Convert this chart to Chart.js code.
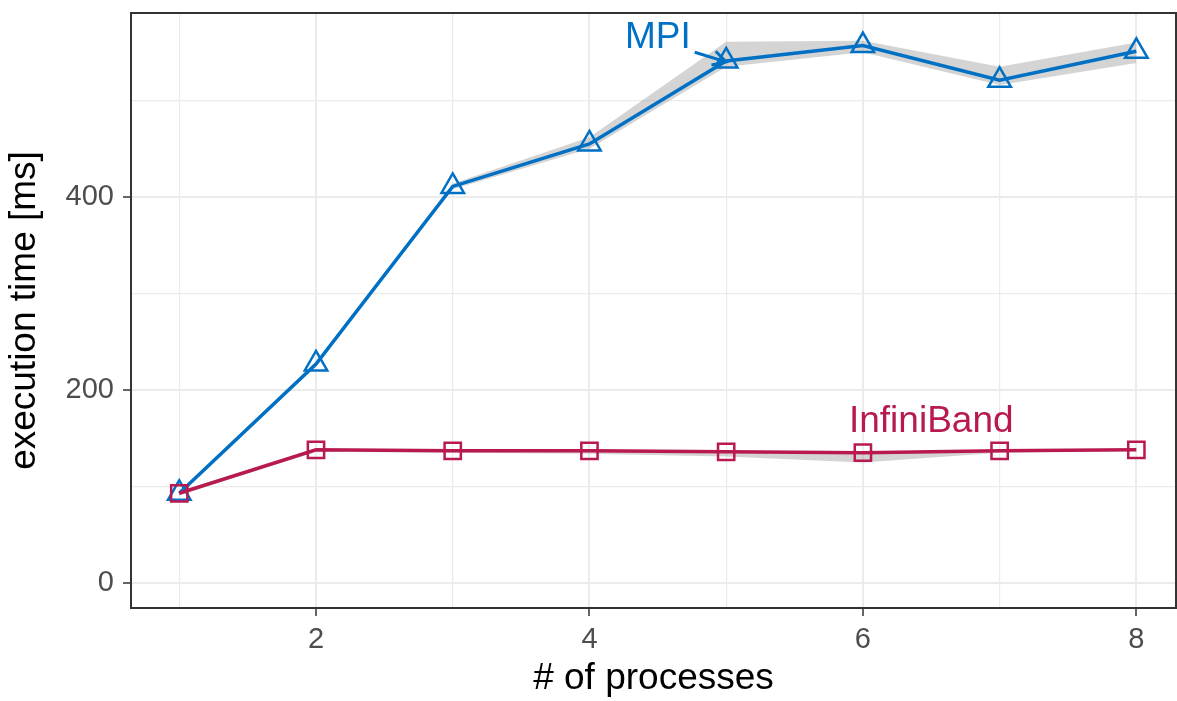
<!DOCTYPE html>
<html>
<head>
<meta charset="utf-8">
<script src="https://cdn.jsdelivr.net/npm/chart.js@4"></script>
<style>
  body { margin: 0; background: #fff; }
  #wrap { width: 1177px; height: 701px; }
</style>
</head>
<body>
<div id="wrap"><canvas id="chart" width="1177" height="701"></canvas></div>
<script>
const processes = [1, 2, 3, 4, 5, 6, 7, 8];
const mpiTime = [93, 227, 411, 455, 541, 557, 521, 551];
const mpiUpper = [95, 229, 414, 462, 561, 562, 535, 560];
const mpiLower = [91, 225, 408, 450, 535, 550, 516, 539];
const ibTime = [93, 138, 137, 137, 136, 135, 137, 138];
const ibUpper = [95, 139, 138, 138, 137, 136, 138, 139];
const ibLower = [91, 136, 135, 134, 131, 125, 135, 137];
const xMajor = [2, 4, 6, 8];
const yMajor = [0, 200, 400];

const MPI_COLOR = '#0070c4';
const IB_COLOR = '#b81a50';
const RIBBON = 'rgba(160,160,160,0.45)';
const FONT = "'Liberation Sans', Arial, sans-serif";

const pts = arr => arr.map((v, i) => ({ x: processes[i], y: v }));

const labels = [
    { text: 'MPI', x: 4.5, y: 565, color: MPI_COLOR, size: 37 },
    { text: 'InfiniBand', x: 6.5, y: 167, color: IB_COLOR, size: 37 }
];
const arrow = { from: [4.77, 550], to: [5.0, 540], color: MPI_COLOR };

const decor = {
    id: 'decor',
    afterDatasetsDraw(chart) {
        const { ctx, chartArea: a, scales: { x, y } } = chart;
        ctx.save();
        ctx.strokeStyle = '#333333';
        ctx.lineWidth = 2;
        ctx.strokeRect(a.left, a.top, a.right - a.left, a.bottom - a.top);

        labels.forEach(l => {
            ctx.fillStyle = l.color;
            ctx.font = `${l.size}px ${FONT}`;
            ctx.textAlign = 'center';
            ctx.textBaseline = 'middle';
            ctx.fillText(l.text, x.getPixelForValue(l.x), y.getPixelForValue(l.y));
        });

        const x0 = x.getPixelForValue(arrow.from[0]), y0 = y.getPixelForValue(arrow.from[1]);
        const x1 = x.getPixelForValue(arrow.to[0]), y1 = y.getPixelForValue(arrow.to[1]);
        const ang = Math.atan2(y1 - y0, x1 - x0);
        ctx.strokeStyle = arrow.color;
        ctx.lineWidth = 3;
        ctx.beginPath();
        ctx.moveTo(x0, y0);
        ctx.lineTo(x1, y1);
        ctx.moveTo(x1 - 15 * Math.cos(ang - 0.5), y1 - 15 * Math.sin(ang - 0.5));
        ctx.lineTo(x1, y1);
        ctx.lineTo(x1 - 15 * Math.cos(ang + 0.5), y1 - 15 * Math.sin(ang + 0.5));
        ctx.stroke();
        ctx.restore();
    }
};

const ribbon = (data, fill) => ({
    data: pts(data),
    borderWidth: 0,
    pointRadius: 0,
    backgroundColor: RIBBON,
    fill: fill,
    order: 10
});

new Chart(document.getElementById('chart'), {
    type: 'line',
    data: {
        datasets: [
            {
                label: 'InfiniBand',
                data: pts(ibTime),
                borderColor: IB_COLOR,
                borderWidth: 3.5,
                pointStyle: 'rect',
                pointRadius: 11.5,
                pointBorderWidth: 2.5,
                pointBorderColor: IB_COLOR,
                pointBackgroundColor: 'rgba(0,0,0,0)',
                fill: false,
                order: 1
            },
            {
                label: 'MPI',
                data: pts(mpiTime),
                borderColor: MPI_COLOR,
                borderWidth: 3.5,
                pointStyle: 'triangle',
                pointRadius: 13,
                pointBorderWidth: 2.5,
                pointBorderColor: MPI_COLOR,
                pointBackgroundColor: 'rgba(0,0,0,0)',
                fill: false,
                order: 2
            },
            ribbon(mpiUpper, '+1'),
            ribbon(mpiLower, false),
            ribbon(ibUpper, '+1'),
            ribbon(ibLower, false)
        ]
    },
    options: {
        responsive: false,
        animation: false,
        layout: { autoPadding: false, padding: { top: 13, right: 1, left: 0, bottom: 0 } },
        plugins: { legend: { display: false }, tooltip: { enabled: false } },
        scales: {
            x: {
                type: 'linear',
                min: 0.647,
                max: 8.29,
                afterBuildTicks: s => { s.ticks = processes.map(v => ({ value: v })); },
                afterFit: s => {
                    s.height = 93;
                    s.paddingLeft = 0;
                    s.paddingRight = 0;
                },
                grid: {
                    color: '#ebebeb',
                    lineWidth: c => xMajor.includes(c.tick.value) ? 2 : 1.2,
                    tickColor: c => xMajor.includes(c.tick.value) ? '#333333' : 'rgba(0,0,0,0)',
                    tickLength: 8,
                    tickWidth: 1.5
                },
                border: { display: false },
                ticks: {
                    color: '#4d4d4d',
                    font: { family: FONT, size: 29 },
                    padding: 7,
                    maxRotation: 0,
                    callback: v => xMajor.includes(v) ? String(v) : ''
                },
                title: {
                    display: true,
                    text: '# of processes',
                    color: '#000',
                    font: { family: FONT, size: 37 },
                    padding: { top: 0, bottom: 0 }
                }
            },
            y: {
                type: 'linear',
                min: -25.9,
                max: 590.7,
                afterBuildTicks: s => { s.ticks = [0, 100, 200, 300, 400, 500].map(v => ({ value: v })); },
                afterFit: s => {
                    s.width = 131;
                    s.paddingTop = 0;
                    s.paddingBottom = 0;
                },
                grid: {
                    color: '#ebebeb',
                    lineWidth: c => yMajor.includes(c.tick.value) ? 2 : 1.2,
                    tickColor: c => yMajor.includes(c.tick.value) ? '#333333' : 'rgba(0,0,0,0)',
                    tickLength: 8,
                    tickWidth: 1.5
                },
                border: { display: false },
                ticks: {
                    color: '#4d4d4d',
                    font: { family: FONT, size: 29 },
                    padding: 9,
                    callback: v => yMajor.includes(v) ? String(v) : ''
                },
                title: {
                    display: true,
                    text: 'execution time [ms]',
                    color: '#000',
                    font: { family: FONT, size: 37 },
                    padding: { top: 3, bottom: 0 }
                }
            }
        }
    },
    plugins: [decor]
});
</script>
</body>
</html>
